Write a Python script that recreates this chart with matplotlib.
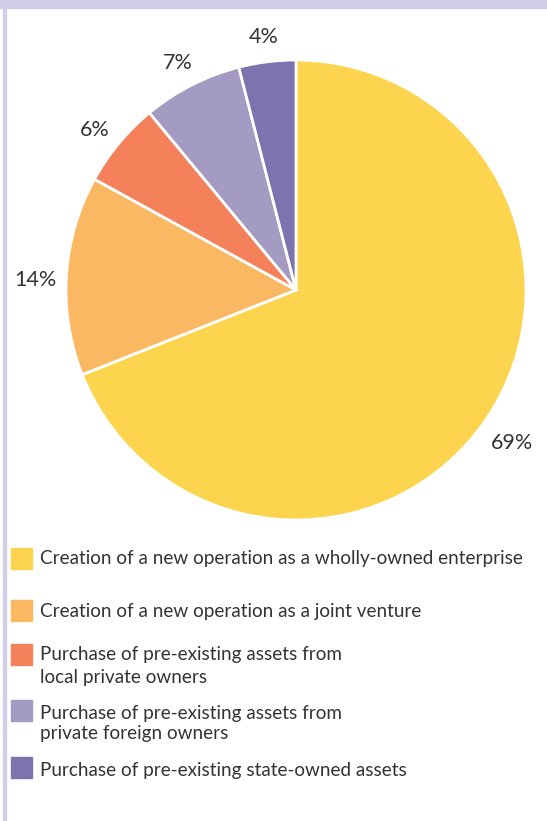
"""Pie chart: mode of entry of foreign investors."""

import matplotlib.pyplot as plt
from matplotlib.patches import Rectangle
from matplotlib.transforms import offset_copy

plt.rcParams['font.family'] = ['Lato', 'DejaVu Sans']

# Data (share of investors, %)
categories = [
    'Creation of a new operation as a wholly-owned enterprise',
    'Creation of a new operation as a joint venture',
    'Purchase of pre-existing assets from\nlocal private owners',
    'Purchase of pre-existing assets from\nprivate foreign owners',
    'Purchase of pre-existing state-owned assets',
]
shares = [69, 14, 6, 7, 4]
colors = ['#FDD44D', '#FBB862', '#F4815A', '#A39BC2', '#7B74AE']

TEXT = '#333333'
FRAME = '#D0CEE6'
W, H = 547, 821

fig = plt.figure(figsize=(W / 100, H / 100), dpi=100)
fig.patch.set_facecolor('white')

# lavender frame: top band and left strip
fig.patches.append(Rectangle((0, 1 - 8 / H), 1, 8 / H, transform=fig.transFigure,
                             color=FRAME, zorder=0))
fig.patches.append(Rectangle((3 / W, 0), 3 / W, 1, transform=fig.transFigure,
                             color=FRAME, zorder=0))

# pie axes: centre at (296, 290) px, radius 230 px
half = 280
ax = fig.add_axes([(296 - half) / W, 1 - (290 + half) / H, 2 * half / W, 2 * half / H])

wedges, texts = ax.pie(shares, colors=colors, startangle=90, counterclock=False,
                       radius=1, labels=[f'{s}%' for s in shares], labeldistance=1.135,
                       wedgeprops=dict(edgecolor='white', linewidth=2),
                       textprops=dict(fontsize=15.5, color=TEXT))
for t in texts:
    t.set_ha('center')
    t.set_va('center')
    t.set_clip_on(False)
    # nudge down a little so the digits sit like the original
    t.set_transform(offset_copy(t.get_transform(), fig=fig, y=-6, units='dots'))

# pie() resets the limits, so set them afterwards
lim = half / 230
ax.set_xlim(-lim, lim)
ax.set_ylim(-lim, lim)
ax.set_aspect('equal')
ax.axis('off')

# legend drawn manually to match the row spacing (pixel rows from the top)
box_y = [558, 610, 654, 710, 767]
text_y = [557, 610, 653, 712, 769]
spacing = [1.25, 1.25, 1.43, 1.19, 1.25]
for lab, col, by, ty, ls in zip(categories, colors, box_y, text_y, spacing):
    fig.patches.append(Rectangle((11 / W, 1 - (by + 10.5) / H), 21 / W, 21 / H,
                                 transform=fig.transFigure, color=col))
    fig.text(40 / W, 1 - (ty - 7) / H, lab, ha='left', va='top', fontsize=13.6,
             color=TEXT, linespacing=ls)

plt.savefig('out.png', dpi=100)
